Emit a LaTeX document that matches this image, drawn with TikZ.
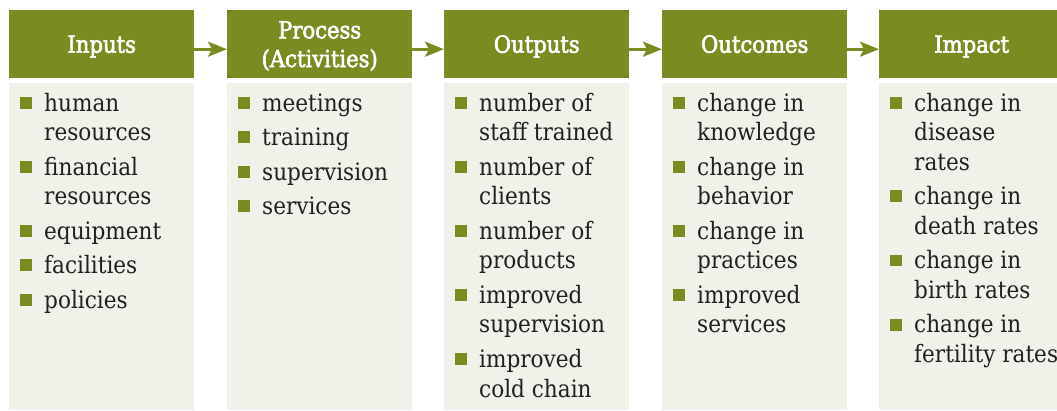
\documentclass[tikz,border=0pt]{standalone}
\usepackage{fontspec}
\setmainfont{DejaVu Serif Condensed}
\newfontfamily\lfheadfont{DejaVu Serif Condensed}[FakeBold=2.5]
\usetikzlibrary{arrows.meta}
\definecolor{lfgreen}{HTML}{7A8C21}
\definecolor{lfbg}{HTML}{EFF2E8}
\definecolor{lftext}{HTML}{231F20}
\newcommand\lfbul{\llap{\textcolor{lfgreen}{\rule[2.5pt]{12pt}{12pt}}\hspace{12pt}}}
\newcommand\lfst{\rule[-5pt]{0pt}{27pt}}
\begin{document}
\begin{tikzpicture}[x=1pt,y=-1pt,
  headbox/.style={fill=lfgreen, text=white, font=\lfheadfont\fontsize{23.5}{28.7}\selectfont,
    minimum width=185pt, minimum height=68pt, inner sep=0pt, align=center, anchor=north west},
  bodybox/.style={fill=lfbg, minimum width=185pt, minimum height=327pt, inner sep=0pt, anchor=north west},
  itemtext/.style={anchor=base west, align=left, text=lftext,
    font=\fontsize{24}{29.5}\selectfont, inner sep=0pt},
  link/.style={draw=lfgreen, line width=3pt, -{Stealth[length=19pt,width=15pt,inset=4pt]}}]
\useasboundingbox (0,0) rectangle (1057,411);
% headers
\node[headbox] (h1) at (9,10) {\lfst Inputs};
\node[headbox] (h2) at (227,10) {\lfst Process\\\lfst(Activities)};
\node[headbox] (h3) at (444,10) {\lfst Outputs};
\node[headbox] (h4) at (662,10) {\lfst Outcomes};
\node[headbox] (h5) at (879,10) {\lfst Impact};
% bodies
\node[bodybox] (b1) at (9,83) {};
\node[bodybox] (b2) at (227,83) {};
\node[bodybox] (b3) at (444,83) {};
\node[bodybox] (b4) at (662,83) {};
\node[bodybox] (b5) at (879,83) {};
% arrows
\draw[link] ([yshift=-5pt]h1.east) -- ([yshift=-5pt]h2.west);
\draw[link] ([yshift=-5pt]h2.east) -- ([yshift=-5pt]h3.west);
\draw[link] ([yshift=-5pt]h3.east) -- ([yshift=-5pt]h4.west);
\draw[link] ([yshift=-5pt]h4.east) -- ([yshift=-5pt]h5.west);
% Inputs (anchor = baseline of last line)
\node[itemtext] (i1) at (44,141) {\lfbul human\\resources};
\node[itemtext] (i2) at (44,205) {\lfbul financial\\resources};
\node[itemtext] (i3) at (44,239.5) {\lfbul equipment};
\node[itemtext] (i4) at (44,274) {\lfbul facilities};
\node[itemtext] (i5) at (44,308.5) {\lfbul policies};
% Process
\node[itemtext] (p1) at (262,111.5) {\lfbul meetings};
\node[itemtext] (p2) at (262,146) {\lfbul training};
\node[itemtext] (p3) at (262,180.5) {\lfbul supervision};
\node[itemtext] (p4) at (262,215) {\lfbul services};
% Outputs
\node[itemtext] (o1) at (479,141) {\lfbul number of\\staff trained};
\node[itemtext] (o2) at (479,205) {\lfbul number of\\clients};
\node[itemtext] (o3) at (479,269) {\lfbul number of\\products};
\node[itemtext] (o4) at (479,333) {\lfbul improved\\supervision};
\node[itemtext] (o5) at (479,397) {\lfbul improved\\cold chain};
% Outcomes
\node[itemtext] (c1) at (697,141) {\lfbul change in\\knowledge};
\node[itemtext] (c2) at (697,205) {\lfbul change in\\behavior};
\node[itemtext] (c3) at (697,269) {\lfbul change in\\practices};
\node[itemtext] (c4) at (697,333) {\lfbul improved\\services};
% Impact
\node[itemtext] (m1) at (914,170.5) {\lfbul change in\\disease\\rates};
\node[itemtext] (m2) at (914,234.5) {\lfbul change in\\death rates};
\node[itemtext] (m3) at (914,298.5) {\lfbul change in\\birth rates};
\node[itemtext] (m4) at (914,362.5) {\lfbul change in\\fertility rates};
\end{tikzpicture}
\end{document}
